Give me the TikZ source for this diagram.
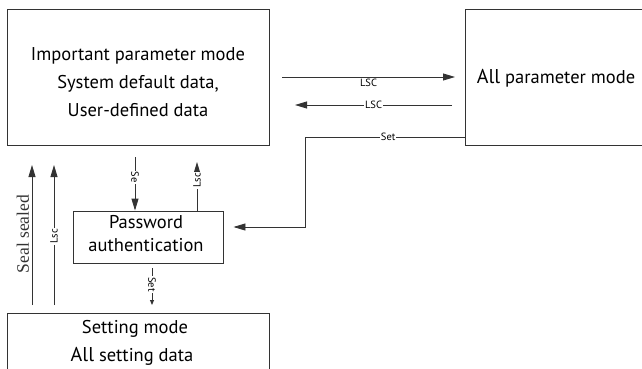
\documentclass[tikz,border=0pt]{standalone}
\usepackage{fontspec}
\setmainfont{PT Sans}
\newfontfamily\serifb{Liberation Serif}
\usetikzlibrary{arrows.meta}
\begin{document}
\begin{tikzpicture}[x=1pt,y=-1pt,
  box/.style={draw=black!80, line width=0.9pt, inner sep=0pt},
  conn/.style={draw=black!80, line width=0.9pt},
  arr/.style={conn, -{Triangle[length=12pt,width=7pt]}},
  sarr/.style={conn, -{Triangle[length=5pt,width=4pt]}},
  lbl/.style={font=\fontsize{10.5}{11}\selectfont, fill=white, inner sep=1pt},
  txt/.style={font=\fontsize{18.5}{28}\selectfont, align=center, inner sep=0pt}]
\useasboundingbox (0,0) rectangle (642,369);
% boxes
\node[box, minimum width=262pt, minimum height=136pt] (imp) at (138,77) {};
\node[box, minimum width=200pt, minimum height=136pt] (allp) at (565,77) {};
\node[box, minimum width=150pt, minimum height=52pt] (pw) at (148,237) {};
\node[box, minimum width=262pt, minimum height=90pt] (set) at (138,358) {};
% texts
\node[txt] (imptext) at (138,82) {Important parameter mode\\System default data\raisebox{-1pt}{,}\\User-defined data};
\node[txt] (alltext) at (556,78) {{\fontsize{20}{20}\selectfont All} parameter mode};
\node[txt, font=\fontsize{18.5}{23}\selectfont] (pwtext) at (146,234) {Password\\authentication};
\node[txt] (settext1) at (135,329) {Setting mode};
\node[txt] (settext2) at (132,356) {{\fontsize{20}{20}\selectfont All} setting data};
% coordinates
\coordinate (a1s) at (282,77);
\coordinate (a1e) at (455,77);
\coordinate (a2s) at (452,105);
\coordinate (a2e) at (295,105);
\coordinate (setr) at (465,137);
\coordinate (setc1) at (305,137);
\coordinate (setc2) at (305,227);
\coordinate (pwr) at (pw.east |- setc2);
\coordinate (ses) at (135,157);
\coordinate (see) at (pw.north -| ses);
\coordinate (lscs) at (pw.north -| 197,0);
\coordinate (lsce) at (197,162);
\coordinate (sets) at (152,268);
\coordinate (sete) at (152,305);
\coordinate (seals) at (32,305);
\coordinate (seale) at (32,165);
\coordinate (lsc2s) at (54,305);
\coordinate (lsc2e) at (54,165);
% connectors
\draw[arr] (a1s) -- (a1e) node[midway, below=1pt, lbl, fill=none] (l1) {LSC};
\draw[arr] (a2s) -- (a2e) node[midway, lbl] (l2) {LSC};
\draw[arr] (setr) -- (setc1) node[pos=0.48, lbl] (l3) {Set} -- (setc2) -- ([xshift=10pt]pwr);
\draw[arr] (ses) -- (see) node[pos=0.38, lbl, rotate=-90] (l4) {Se};
\draw[arr] (lscs) -- (lsce) node[pos=0.62, lbl, rotate=90] (l5) {Lsc};
\draw[sarr] (sets) -- (sete) node[pos=0.45, lbl, rotate=-90] (l6) {Set};
\draw[arr] (seals) -- (seale);
\node[font=\serifb\fontsize{17.5}{20}\selectfont, rotate=90, inner sep=0pt, text=black!80] (seallbl) at (23,234) {Seal sealed};
\draw[arr] (lsc2s) -- (lsc2e) node[pos=0.49, lbl, rotate=90] (l7) {Lsc};
\end{tikzpicture}
\end{document}
